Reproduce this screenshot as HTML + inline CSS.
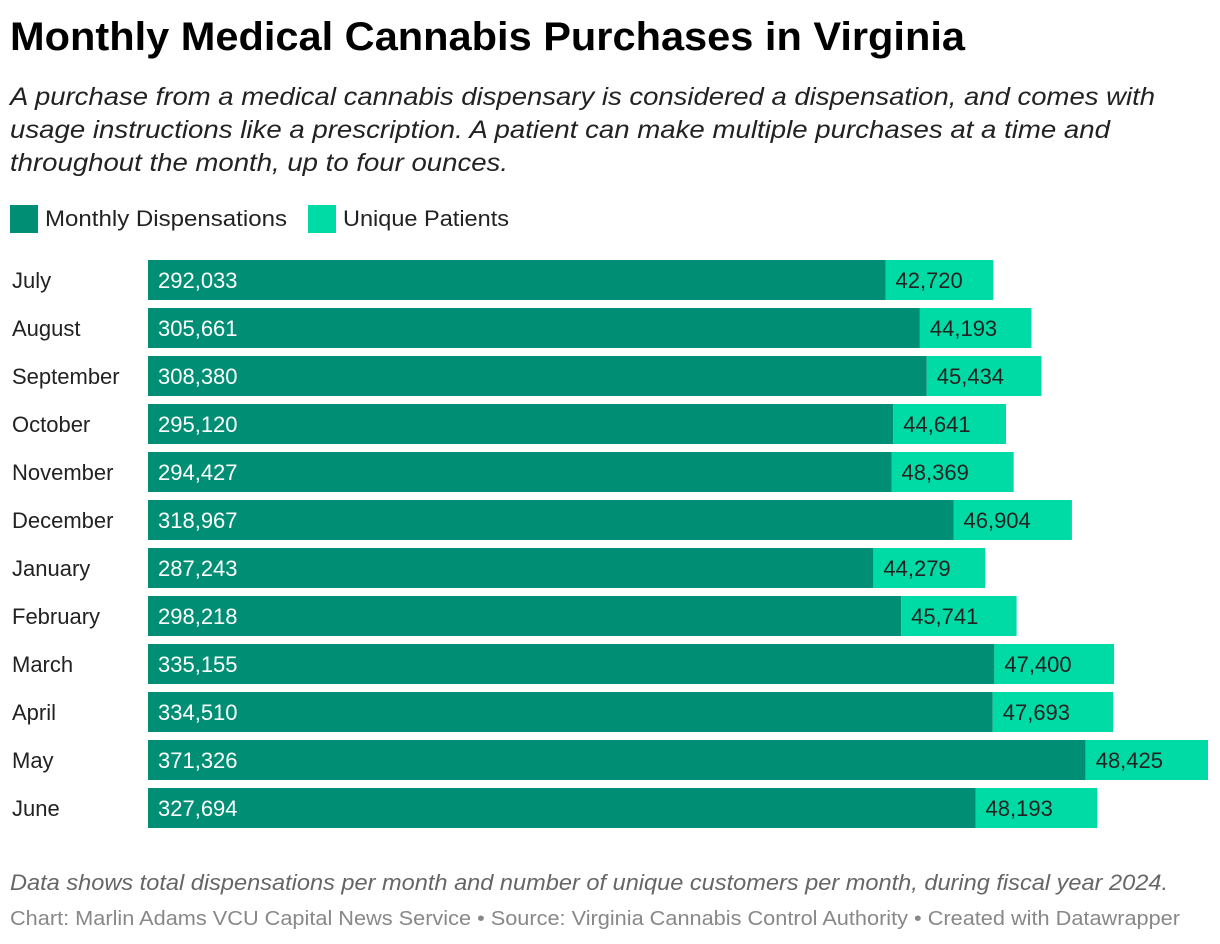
<!DOCTYPE html>
<html><head><meta charset="utf-8"><style>
body{margin:0;background:#fff;}
svg{display:block;font-family:"Liberation Sans",Arial,sans-serif;}
</style></head><body>
<svg id="chart" width="1220" height="944" viewBox="0 0 1220 944">
<text x="10" y="50" font-size="40" font-weight="bold" fill="#000" textLength="955" lengthAdjust="spacingAndGlyphs">Monthly Medical Cannabis Purchases in Virginia</text>
<g font-size="25" font-style="italic" fill="#222">
<text x="10" y="105" textLength="1145" lengthAdjust="spacingAndGlyphs">A purchase from a medical cannabis dispensary is considered a dispensation, and comes with</text>
<text x="10" y="138" textLength="1100" lengthAdjust="spacingAndGlyphs">usage instructions like a prescription. A patient can make multiple purchases at a time and</text>
<text x="10" y="171" textLength="498" lengthAdjust="spacingAndGlyphs">throughout the month, up to four ounces.</text>
</g>
<g>
<rect x="10" y="205" width="28" height="28" fill="#008f75"/>
<text x="45" y="226" font-size="22" fill="#222" textLength="242" lengthAdjust="spacingAndGlyphs">Monthly Dispensations</text>
<rect x="308" y="205" width="28" height="28" fill="#00dba5"/>
<text x="343" y="226" font-size="22" fill="#222" textLength="166" lengthAdjust="spacingAndGlyphs">Unique Patients</text>
</g>
<g id="bars"></g>
<text x="10" y="890" font-size="22" font-style="italic" fill="#666" textLength="1158" lengthAdjust="spacingAndGlyphs">Data shows total dispensations per month and number of unique customers per month, during fiscal year 2024.</text>
<text x="10" y="925" font-size="20" fill="#888" textLength="1170" lengthAdjust="spacingAndGlyphs">Chart: Marlin Adams VCU Capital News Service • Source: Virginia Cannabis Control Authority • Created with Datawrapper</text>
</svg>
<script>
const months=["July","August","September","October","November","December","January","February","March","April","May","June"];
const dispensations=[292033,305661,308380,295120,294427,318967,287243,298218,335155,334510,371326,327694];
const patients=[42720,44193,45434,44641,48369,46904,44279,45741,47400,47693,48425,48193];
const NS="http://www.w3.org/2000/svg";
const g=document.getElementById('bars');
const x0=148, maxTotal=419751, pxW=1060;
const xs=v=>v/maxTotal*pxW;
const fmt=v=>v.toLocaleString('en-US');
function mk(tag,attrs){const e=document.createElementNS(NS,tag);for(const k in attrs)e.setAttribute(k,attrs[k]);g.appendChild(e);return e;}
months.forEach((m,i)=>{
  const y=260+i*48;
  const lab=mk('text',{x:12,y:y+28,'font-size':22,fill:'#222'});lab.textContent=m;
  
  
  const w1=xs(dispensations[i]), w2=xs(patients[i]);
  const r1=mk('rect',{x:x0,y:y,width:w1,height:40,fill:'#008f75'});
  
  
  const r2=mk('rect',{x:x0+w1,y:y,width:w2,height:40,fill:'#00dba5'});
  
  
  const t1=mk('text',{x:x0+10,y:y+28,'font-size':22,fill:'#fff'});t1.textContent=fmt(dispensations[i]);
  
  
  const t2=mk('text',{x:x0+w1+10,y:y+28,'font-size':22,fill:'#222'});t2.textContent=fmt(patients[i]);
  
  
});
</script>
</body></html>
